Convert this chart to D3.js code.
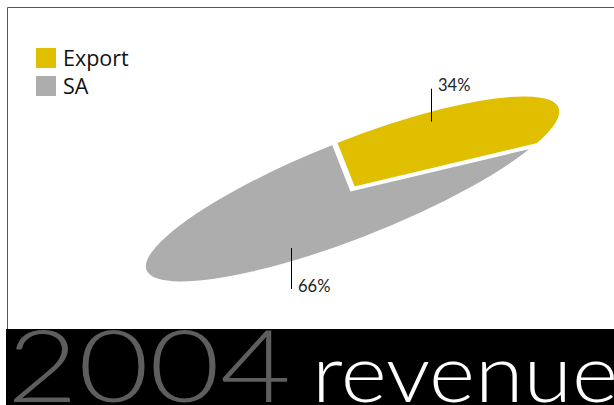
<!DOCTYPE html>
<html><head><meta charset="utf-8">
<script src="https://cdn.jsdelivr.net/npm/d3@7/dist/d3.min.js"></script>
<style>body{margin:0;background:#fff}svg{display:block}</style></head>
<body>
<script>
const categories = ["Export", "SA"];
const values = [34, 66];
const valueLabels = ["34%", "66%"];
const colors = ["#E0BE00", "#ADADAD"];
const titleYear = "2004";
const titleWord = "revenue";

const W = 614, H = 405;
const svg = d3.select("body").append("svg").attr("width", W).attr("height", H);

// frame
svg.append("path").attr("d", "M7.5,330 V7.5 H614")
  .attr("fill", "none").attr("stroke", "#555").attr("stroke-width", 1);

// tilted pie: circle space -> ellipse via affine matrix
const R = 100;
const A = 222, B = 50, phi = -21.5 * Math.PI / 180, cx = 351.5, cy = 189.5;
const u = [Math.cos(phi), Math.sin(phi)], v = [-Math.sin(phi), Math.cos(phi)];
const m = [A * u[0] / R, A * u[1] / R, B * v[0] / R, B * v[1] / R, cx, cy];
const project = (x, y) => [m[0] * x + m[2] * y + m[4], m[1] * x + m[3] * y + m[5]];

const start = 0.0;
const pie = d3.pie().sort(null).value(d => d).startAngle(start).endAngle(2 * Math.PI + start);
const arcs = pie(values);
const arc = d3.arc().innerRadius(0).outerRadius(R);
const explode = [1.2, 0];

const g = svg.append("g").attr("transform", `matrix(${m.join(",")})`);
const order = [1, 0];
order.forEach(i => {
  const a = arcs[i];
  const mid = (a.startAngle + a.endAngle) / 2;
  const d = explode[i];
  const dx = d * Math.sin(mid), dy = -d * Math.cos(mid);
  g.append("path")
    .attr("d", arc(a))
    .attr("transform", `translate(${dx},${dy})`)
    .attr("fill", colors[i])
    .attr("stroke", "#fff")
    .attr("stroke-width", 3.5)
    .attr("vector-effect", "non-scaling-stroke")
    .attr("stroke-linejoin", "miter");
});

// labels with vertical leaders
const labelFrac = [0.27, 0.363], labelRad = [0.8, 0.732];
const leaderLen = [33, 41];
arcs.forEach((a, i) => {
  const ang = a.startAngle + (a.endAngle - a.startAngle) * labelFrac[i];
  const mid = (a.startAngle + a.endAngle) / 2;
  const d = explode[i];
  const px = labelRad[i] * R * Math.sin(ang) + d * Math.sin(mid);
  const py = -labelRad[i] * R * Math.cos(ang) - d * Math.cos(mid);
  const [x, y] = project(px, py);
  const up = i === 0;
  const y2 = up ? y - leaderLen[i] : y + leaderLen[i];
  svg.append("line").attr("x1", Math.round(x) + 0.5).attr("x2", Math.round(x) + 0.5)
    .attr("y1", y).attr("y2", y2).attr("stroke", "#000").attr("stroke-width", 1);
  svg.append("text").attr("x", Math.round(x) + 7).attr("y", up ? y2 + 2.7 : y2 + 3.3)
    .attr("font-family", "Lato").attr("font-size", 16.5).attr("fill", "#222")
    .text(valueLabels[i]);
});

// legend
const leg = svg.append("g");
categories.forEach((c, i) => {
  leg.append("rect").attr("x", 36).attr("y", 48 + i * 28).attr("width", 20).attr("height", 20).attr("fill", colors[i]);
  leg.append("text").attr("x", 63).attr("y", 65.7 + i * 28)
    .attr("font-family", "Open Sans").attr("font-size", 21.5).attr("fill", "#111").text(c);
});

// title band
svg.append("rect").attr("x", 6).attr("y", 329).attr("width", W - 6).attr("height", H - 329).attr("fill", "#000");
svg.append("text").attr("x", 7).attr("y", 402).attr("font-family", "Lato").attr("font-weight", 300)
  .attr("font-size", 100).attr("fill", "#5E5E5E")
  .attr("textLength", 284).attr("lengthAdjust", "spacingAndGlyphs").text(titleYear);
svg.append("text").attr("x", 312).attr("y", 402).attr("font-family", "Lato").attr("font-weight", 300)
  .attr("font-size", 80).attr("fill", "#fff")
  .attr("textLength", 306).attr("lengthAdjust", "spacingAndGlyphs").text(titleWord);
</script>
</body></html>
